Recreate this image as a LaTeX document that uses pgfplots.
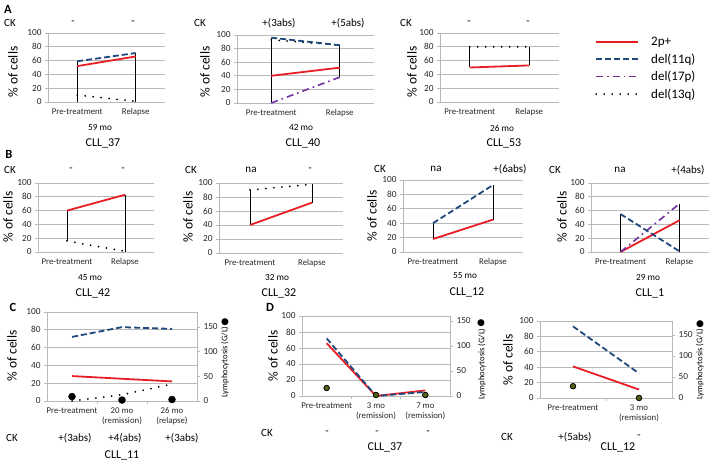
\documentclass[border=0pt]{standalone}
\usepackage{fontspec}
\setmainfont{Carlito}
\newfontfamily\dejavu{DejaVu Sans}
\usepackage{pgfplots}
\pgfplotsset{compat=1.18}
\definecolor{rd}{RGB}{232,30,37}
\definecolor{bl}{RGB}{31,73,125}
\definecolor{pu}{RGB}{112,48,160}
\definecolor{gridc}{RGB}{185,185,185}
\definecolor{tickc}{RGB}{40,40,40}
\definecolor{dotf}{RGB}{80,100,20}
\newcommand\fck{\fontsize{11}{13}\selectfont}
\newcommand\flab{\fontsize{13.5}{15}\selectfont}
\newcommand\fmo{\fontsize{9.3}{11}\selectfont}
\newcommand\fcll{\fontsize{12}{14}\selectfont}
\newcommand\fpan{\fontsize{12.5}{14}\selectfont\bfseries}
\newcommand\flym{\fontsize{8.6}{10}\selectfont}
\newcommand\txt[4][]{\node[inner sep=0pt,#1] at ({#2*1pt},{(463-#3)*1pt}) {#4};}
\pgfplotsset{
  p2/.style={rd, line width=1.8pt},
  d11/.style={bl, line width=1.8pt, dash pattern=on 6pt off 3pt},
  d17/.style={pu, line width=1.6pt, dash pattern=on 7pt off 4pt on 1.6pt off 4pt},
  d13/.style={black, line width=2pt, line cap=round, dash pattern=on 0pt off 8pt},
  vl/.style={black, line width=0.6pt},
  base/.style={scale only axis, clip=false, anchor=south west,
    ymin=0, ymax=100, ytick={0,20,40,60,80,100},
    ymajorgrids, grid style={draw=gridc, line width=0.7pt},
    axis x line*=bottom, axis y line*=left,
    axis line style={draw=gridc, line width=0.7pt},
    tick align=outside, major tick length=3pt, minor tick length=3pt,
    tick style={draw=gridc, line width=0.6pt},
    every major x tick/.append style={draw=none},
    /pgf/number format/assume math mode=true,
    yticklabel style={font=\fontsize{9.3}{11}\selectfont, text=tickc},
    xticklabel style={font=\fontsize{8.8}{10.5}\selectfont, text=tickc, align=center},
  },
  two/.style={base, xmin=-0.5, xmax=1.5, xtick={0,1}, xticklabels={Pre-treatment, Relapse}},
  rax/.style={scale only axis, clip=false, anchor=south west,
    axis x line=none, axis y line*=right,
    axis line style={draw=gridc, line width=0.7pt},
    ymin=0, ytick={0,50,100,150},
    tick align=outside, major tick length=3pt,
    tick style={draw=gridc, line width=0.6pt},
    /pgf/number format/assume math mode=true,
    yticklabel style={font=\fontsize{9.3}{11}\selectfont, text=tickc},
  },
}
\begin{document}
\begin{tikzpicture}
\useasboundingbox (0,0) rectangle (709pt,463pt);
% ---------------- A ----------------
\begin{axis}[two, at={(48pt,361pt)}, width=117pt, height=69pt]
\addplot[vl] coordinates {(0,0) (0,59)};
\addplot[vl] coordinates {(1,0) (1,71)};
\addplot[d13] coordinates {(0,10) (1,1)};
\addplot[p2] coordinates {(0,52) (1,66)};
\addplot[d11] coordinates {(0,59) (1,71)};
\end{axis}
\begin{axis}[two, at={(237pt,360pt)}, width=137pt, height=68pt]
\addplot[vl] coordinates {(0,0) (0,96)};
\addplot[vl] coordinates {(1,38) (1,86)};
\addplot[d13] coordinates {(0,93) (1,85)};
\addplot[p2] coordinates {(0,40) (1,52)};
\addplot[d17] coordinates {(0,0) (1,38)};
\addplot[d11] coordinates {(0,96) (1,85)};
\end{axis}
\begin{axis}[two, at={(440pt,361pt)}, width=119pt, height=69pt]
\addplot[vl] coordinates {(0,50) (0,80)};
\addplot[vl] coordinates {(1,53) (1,80)};
\addplot[d13] coordinates {(0,80) (1,80)};
\addplot[p2] coordinates {(0,50) (1,53)};
\end{axis}
% legend
\begin{axis}[hide axis, scale only axis, width=10pt, height=10pt,
  xmin=0, xmax=1, ymin=0, ymax=1, at={(595pt,428pt)}, anchor=north west,
  legend style={at={(0,1)}, anchor=north west, draw=none, fill=none,
    font=\fontsize{13}{15}\selectfont, row sep=2.5pt, inner sep=0pt,
    cells={anchor=west},
    /tikz/every odd column/.style={column sep=10pt}},
  legend image code/.code={\draw[#1] (0pt,0pt) -- (42pt,0pt);}]
\addlegendimage{p2}\addlegendentry{2p+}
\addlegendimage{d11}\addlegendentry{del(11q)}
\addlegendimage{d17}\addlegendentry{del(17p)}
\addlegendimage{d13}\addlegendentry{del(13q)}
\end{axis}
% ---------------- B ----------------
\begin{axis}[two, at={(38pt,211pt)}, width=116pt, height=69pt]
\addplot[vl] coordinates {(0,16) (0,60)};
\addplot[vl] coordinates {(1,0) (1,83)};
\addplot[d13] coordinates {(0,16) (1,1)};
\addplot[p2] coordinates {(0,60) (1,83)};
\end{axis}
\begin{axis}[two, at={(219pt,210pt)}, width=124pt, height=70pt]
\addplot[vl] coordinates {(0,40) (0,90)};
\addplot[vl] coordinates {(1,72) (1,98)};
\addplot[d13] coordinates {(0,90) (1,98)};
\addplot[p2] coordinates {(0,40) (1,72)};
\end{axis}
\begin{axis}[two, at={(403pt,211pt)}, width=120pt, height=72pt]
\addplot[vl] coordinates {(0,18) (0,40)};
\addplot[vl] coordinates {(1,45) (1,93)};
\addplot[p2] coordinates {(0,18) (1,45)};
\addplot[d11] coordinates {(0,40) (1,93)};
\end{axis}
\begin{axis}[two, at={(591pt,211pt)}, width=118pt, height=69pt]
\addplot[vl] coordinates {(0,0) (0,55)};
\addplot[vl] coordinates {(1,0) (1,70)};
\addplot[p2] coordinates {(0,0) (1,46)};
\addplot[d17] coordinates {(0,0) (1,70)};
\addplot[d11] coordinates {(0,55) (1,1)};
\end{axis}
% ---------------- C ----------------
\begin{axis}[base, at={(47pt,62pt)}, width=150pt, height=89pt,
  xmin=-0.5, xmax=2.5, xtick={0,1,2}, minor xtick={0.5,1.5},
  xticklabels={Pre-treatment, {20 mo\\(remission)}, {26 mo\\(relapse)}}]
\addplot[d13] coordinates {(0,0) (1,7) (2,19)};
\addplot[p2] coordinates {(0,28) (1,25) (2,22)};
\addplot[d11] coordinates {(0,72) (1,83) (2,81)};
\end{axis}
\begin{axis}[rax, at={(47pt,62pt)}, width=150pt, height=89pt,
  xmin=-0.5, xmax=2.5, ymax=180]
\addplot[only marks, mark=*, mark size=3.5pt, mark options={fill=black, draw=black}]
  coordinates {(0,9) (1,2) (2,3)};
\end{axis}
% ---------------- D1 ----------------
\begin{axis}[base, at={(302pt,67pt)}, width=148pt, height=80pt,
  xmin=-0.5, xmax=2.5, xtick={0,1,2}, minor xtick={0.5,1.5},
  xticklabels={Pre-treatment, {3 mo\\(remission)}, {7 mo\\(remission)}}]
\addplot[p2] coordinates {(0,66) (1,0) (2,7)};
\addplot[d11] coordinates {(0,72) (1,0) (2,5)};
\end{axis}
\begin{axis}[rax, at={(302pt,67pt)}, width=148pt, height=80pt,
  xmin=-0.5, xmax=2.5, ymax=160]
\addplot[only marks, mark=*, mark size=2.8pt, mark options={fill=dotf, draw=black, line width=0.8pt}]
  coordinates {(0,16) (1,2) (2,2)};
\end{axis}
% ---------------- D2 ----------------
\begin{axis}[base, at={(540pt,65pt)}, width=132pt, height=77pt,
  xmin=-0.5, xmax=1.5, xtick={0,1}, minor xtick={0.5},
  xticklabels={Pre-treatment, {3 mo\\(remission)}}]
\addplot[p2] coordinates {(0,41) (1,11)};
\addplot[d11] coordinates {(0,93) (1,32)};
\end{axis}
\begin{axis}[rax, at={(540pt,65pt)}, width=132pt, height=77pt,
  xmin=-0.5, xmax=1.5, ymax=183]
\addplot[only marks, mark=*, mark size=2.8pt, mark options={fill=dotf, draw=black, line width=0.8pt}]
  coordinates {(0,28) (1,0)};
\end{axis}
% ---------------- texts ----------------
\txt[font=\fpan]{8}{9}{A}
\txt[font=\fpan]{9}{154}{B}
\txt[font=\fpan]{13}{307}{C}
\txt[font=\fpan]{270}{307}{D}
% row A
\txt[font=\fck]{10}{23}{CK}
\txt[font=\fck]{73}{23}{-}
\txt[font=\fck]{133}{23}{-}
\txt[font=\fck]{200}{23}{CK}
\txt[font=\fck]{279}{23}{+(3abs)}
\txt[font=\fck]{348}{23}{+(5abs)}
\txt[font=\fck]{406}{23}{CK}
\txt[font=\fck]{469}{23}{-}
\txt[font=\fck]{528}{23}{-}
\txt[font=\flab,rotate=90]{13}{72}{\% of cells}
\txt[font=\flab,rotate=90]{205}{72}{\% of cells}
\txt[font=\flab,rotate=90]{412}{72}{\% of cells}
\txt[font=\fmo]{100}{128}{59 mo}
\txt[font=\fcll]{103}{143}{CLL\_37}
\txt[font=\fmo]{301}{128}{42 mo}
\txt[font=\fcll]{303}{143}{CLL\_40}
\txt[font=\fmo]{502}{128}{26 mo}
\txt[font=\fcll]{504}{143}{CLL\_53}
% row B
\txt[font=\fck]{10}{170}{CK}
\txt[font=\fck]{71}{170}{-}
\txt[font=\fck]{123}{170}{-}
\txt[font=\fck]{191}{170}{CK}
\txt[font=\fck]{251}{170}{na}
\txt[font=\fck]{310}{170}{-}
\txt[font=\fck]{380}{169}{CK}
\txt[font=\fck]{436}{169}{na}
\txt[font=\fck]{510}{169}{+(6abs)}
\txt[font=\fck]{555}{170}{CK}
\txt[font=\fck]{620}{170}{na}
\txt[font=\fck]{688}{170}{+(4abs)}
\txt[font=\flab,rotate=90]{8}{217}{\% of cells}
\txt[font=\flab,rotate=90]{188}{217}{\% of cells}
\txt[font=\flab,rotate=90]{372}{216}{\% of cells}
\txt[font=\flab,rotate=90]{562}{217}{\% of cells}
\txt[font=\fmo]{90}{278}{45 mo}
\txt[font=\fcll]{93}{293}{CLL\_42}
\txt[font=\fmo]{277}{278}{32 mo}
\txt[font=\fcll]{279}{293}{CLL\_32}
\txt[font=\fmo]{465}{276}{55 mo}
\txt[font=\fcll]{467}{292}{CLL\_12}
\txt[font=\fmo]{648}{278}{29 mo}
\txt[font=\fcll]{650}{293}{CLL\_1}
% row C/D
\txt[font=\flab,rotate=90]{12}{356}{\% of cells}
\txt[font=\flym,rotate=90]{225}{362}{Lymphocytosis (G/L)}
\txt[font=\dejavu\fontsize{9}{10}\selectfont]{225}{322}{●}
\txt[font=\fck]{12}{438}{CK}
\txt[font=\fck]{75}{438}{+(3abs)}
\txt[font=\fck]{125}{438}{+4(abs)}
\txt[font=\fck]{182}{438}{+(3abs)}
\txt[font=\fcll]{122}{455}{CLL\_11}
\txt[font=\flab,rotate=90]{273}{356}{\% of cells}
\txt[font=\flym,rotate=90]{482}{364}{Lymphocytosis (G/L)}
\txt[font=\dejavu\fontsize{9}{10}\selectfont]{481}{323}{●}
\txt[font=\fck]{267}{433}{CK}
\txt[font=\fck]{327}{433}{-}
\txt[font=\fck]{377}{433}{-}
\txt[font=\fck]{428}{433}{-}
\txt[font=\fcll]{385}{447}{CLL\_37}
\txt[font=\flab,rotate=90]{508}{360}{\% of cells}
\txt[font=\flym,rotate=90]{700}{364}{Lymphocytosis (G/L)}
\txt[font=\dejavu\fontsize{9}{10}\selectfont]{700}{324}{●}
\txt[font=\fck]{507}{437}{CK}
\txt[font=\fck]{575}{437}{+(5abs)}
\txt[font=\fck]{639}{437}{-}
\txt[font=\fcll]{618}{447}{CLL\_12}
\end{tikzpicture}
\end{document}
